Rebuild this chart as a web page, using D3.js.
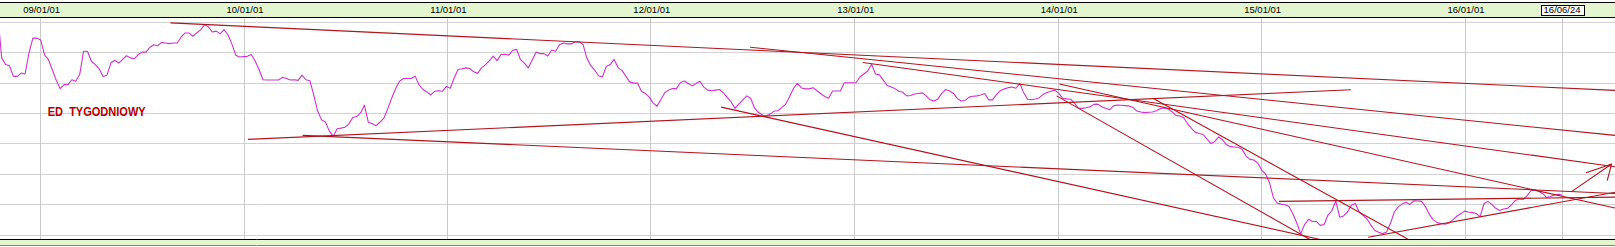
<!DOCTYPE html>
<html>
<head>
<meta charset="utf-8">
<script src="https://cdn.jsdelivr.net/npm/d3@7/dist/d3.min.js"></script>
<style>
    html, body { margin: 0; padding: 0; background: #ffffff; }
    #chart svg { display: block; }
</style>
</head>
<body>
<div id="chart"></div>
<script>
// weekly closes, first week = firstWeek, one value per week
const firstWeek = '2008-10-17';
const weeklyClose = [
    1.525, 1.381, 1.359, 1.355, 1.320, 1.320, 1.331, 1.328, 1.397, 1.446,
    1.446, 1.440, 1.390, 1.375, 1.341, 1.307, 1.280, 1.293, 1.293, 1.309,
    1.304, 1.326, 1.403, 1.403, 1.370, 1.359, 1.345, 1.320, 1.324, 1.364,
    1.373, 1.364, 1.376, 1.388, 1.381, 1.378, 1.392, 1.400, 1.400, 1.416,
    1.424, 1.421, 1.432, 1.430, 1.428, 1.430, 1.430, 1.449, 1.463, 1.463,
    1.452, 1.463, 1.473, 1.490, 1.483, 1.466, 1.469, 1.460, 1.474, 1.457,
    1.427, 1.390, 1.384, 1.385, 1.386, 1.392, 1.370, 1.342, 1.309, 1.308,
    1.308, 1.308, 1.308, 1.317, 1.313, 1.308, 1.309, 1.307, 1.324, 1.309,
    1.306, 1.259, 1.206, 1.177, 1.170, 1.140, 1.123, 1.148, 1.150, 1.153,
    1.164, 1.185, 1.188, 1.200, 1.225, 1.169, 1.164, 1.158, 1.170, 1.183,
    1.215, 1.249, 1.280, 1.304, 1.313, 1.313, 1.313, 1.321, 1.292, 1.277,
    1.269, 1.259, 1.271, 1.273, 1.271, 1.287, 1.281, 1.315, 1.343, 1.345,
    1.348, 1.346, 1.335, 1.330, 1.348, 1.358, 1.371, 1.387, 1.372, 1.392,
    1.393, 1.390, 1.406, 1.409, 1.375, 1.364, 1.348, 1.374, 1.400, 1.395,
    1.395, 1.387, 1.407, 1.403, 1.424, 1.430, 1.427, 1.427, 1.433, 1.434,
    1.426, 1.381, 1.356, 1.341, 1.322, 1.318, 1.353, 1.359, 1.376, 1.349,
    1.340, 1.321, 1.302, 1.298, 1.298, 1.271, 1.264, 1.252, 1.233, 1.222,
    1.244, 1.267, 1.275, 1.280, 1.280, 1.300, 1.305, 1.297, 1.289, 1.297,
    1.304, 1.285, 1.275, 1.273, 1.275, 1.277, 1.266, 1.251, 1.236, 1.215,
    1.230, 1.243, 1.256, 1.248, 1.216, 1.202, 1.193, 1.190, 1.196, 1.206,
    1.207, 1.218, 1.229, 1.254, 1.281, 1.297, 1.282, 1.279, 1.279, 1.283,
    1.273, 1.263, 1.254, 1.248, 1.272, 1.272, 1.272, 1.299, 1.299, 1.299,
    1.299, 1.318, 1.328, 1.338, 1.360, 1.328, 1.325, 1.308, 1.290, 1.285,
    1.280, 1.271, 1.268, 1.256, 1.257, 1.262, 1.264, 1.266, 1.256, 1.243,
    1.239, 1.246, 1.264, 1.277, 1.272, 1.264, 1.247, 1.239, 1.241, 1.252,
    1.255, 1.256, 1.259, 1.264, 1.243, 1.243, 1.260, 1.273, 1.279, 1.283,
    1.285, 1.281, 1.297, 1.266, 1.245, 1.243, 1.246, 1.250, 1.261, 1.267,
    1.271, 1.275, 1.264, 1.248, 1.246, 1.245, 1.232, 1.216, 1.215, 1.217,
    1.220, 1.228, 1.229, 1.220, 1.215, 1.210, 1.223, 1.226, 1.225, 1.224,
    1.223, 1.218, 1.206, 1.203, 1.201, 1.202, 1.203, 1.207, 1.214, 1.216,
    1.213, 1.204, 1.192, 1.190, 1.184, 1.165, 1.149, 1.136, 1.132, 1.129,
    1.114, 1.099, 1.106, 1.121, 1.111, 1.095, 1.089, 1.088, 1.087, 1.080,
    1.058, 1.047, 1.045, 1.035, 1.012, 0.999, 0.971, 0.921, 0.903, 0.900,
    0.898, 0.892, 0.868, 0.838, 0.802, 0.833, 0.850, 0.843, 0.843, 0.830,
    0.833, 0.864, 0.879, 0.910, 0.857, 0.861, 0.874, 0.897, 0.902, 0.874,
    0.863, 0.851, 0.831, 0.813, 0.807, 0.803, 0.808, 0.836, 0.874, 0.891,
    0.900, 0.906, 0.899, 0.911, 0.910, 0.909, 0.891, 0.866, 0.848, 0.839,
    0.836, 0.834, 0.838, 0.848, 0.860, 0.868, 0.877, 0.874, 0.872, 0.869,
    0.859, 0.902, 0.909, 0.899, 0.886, 0.879, 0.884, 0.886, 0.897, 0.912,
    0.917, 0.915, 0.927, 0.944, 0.947, 0.942, 0.935, 0.922, 0.925, 0.930,
    0.932, 0.930
];

const yearTicks = ['2009-01-01', '2010-01-01', '2011-01-01', '2012-01-01',
                   '2013-01-01', '2014-01-01', '2015-01-01', '2016-01-01'];
const lastQuote = '2016-06-24';
const gridLevels = [0.8, 0.9, 1.0, 1.1, 1.2, 1.3, 1.4, 1.5];
const viewRange = ['2008-10-21', '2016-09-27'];

// hand drawn trend lines: [from date, level, to date, level]
const trendLines = [
    ['2009-08-23', 1.496, '2016-09-27', 1.274],
    ['2010-01-09', 1.113, '2015-06-11', 1.276],
    ['2010-04-17', 1.126, '2016-09-27', 0.935],
    ['2012-05-07', 1.219, '2015-05-13', 0.773],
    ['2012-06-28', 1.416, '2016-09-27', 1.126],
    ['2013-01-16', 1.366, '2016-09-27', 1.023],
    ['2014-06-21', 1.248, '2015-10-01', 0.775],
    ['2013-12-30', 1.256, '2015-04-07', 0.775],
    ['2014-01-04', 1.295, '2016-09-27', 0.887],
    ['2015-02-02', 0.909, '2016-09-27', 0.923],
    ['2015-07-12', 0.791, '2016-09-27', 0.939]
];

// arrow: shaft and two barbs
const arrowStrokes = [
    ['2016-07-11', 0.941, '2016-09-21', 1.032],
    ['2016-08-06', 1.003, '2016-09-21', 1.032],
    ['2016-09-13', 0.977, '2016-09-21', 1.032]
];

const chartTitle = 'ED  TYGODNIOWY';

class WeeklyChart {
    constructor(container) {
        this.container = container;
        this.width = 1615;
        this.height = 247;
        this.plotTop = 18.5;
        this.plotBottom = 239;
        this.init();
    }

    init() {
        d3.select(this.container).html("");

        this.svg = d3.select(this.container)
            .append("svg")
            .attr("width", this.width)
            .attr("height", this.height)
            .style("font-family", "'Liberation Sans', Arial, sans-serif");
    }

    processData() {
        const parse = d3.utcParse("%Y-%m-%d");
        const start = parse(firstWeek);
        const series = weeklyClose.map((v, i) => ({
            date: d3.utcWeek.offset(start, i),
            value: v
        }));
        const toSegment = d => ({ x1: parse(d[0]), y1: d[1], x2: parse(d[2]), y2: d[3] });

        return {
            series,
            years: yearTicks.map(parse),
            last: parse(lastQuote),
            range: viewRange.map(parse),
            lines: trendLines.map(toSegment),
            arrow: arrowStrokes.map(toSegment)
        };
    }

    render() {
        const data = this.processData();
        const svg = this.svg;

        const xScale = d3.scaleUtc()
            .domain(data.range)
            .range([0, this.width]);

        const yScale = d3.scaleLinear()
            .domain([0.8, 1.5])
            .range([234.5, 21.7]);

        const crisp = v => Math.round(v) + 0.5;

        svg.selectAll("*").remove();

        svg.append("clipPath")
            .attr("id", "plot-clip")
            .append("rect")
            .attr("x", 0)
            .attr("y", this.plotTop)
            .attr("width", this.width)
            .attr("height", this.plotBottom - this.plotTop);

        // grid
        svg.append("g")
            .selectAll("line")
            .data(gridLevels)
            .join("line")
            .attr("x1", 0)
            .attr("x2", this.width)
            .attr("y1", d => crisp(yScale(d)))
            .attr("y2", d => crisp(yScale(d)))
            .attr("stroke", "#d2d2d2");

        svg.append("g")
            .selectAll("line")
            .data([...data.years, data.last])
            .join("line")
            .attr("x1", d => crisp(xScale(d)))
            .attr("x2", d => crisp(xScale(d)))
            .attr("y1", this.plotTop)
            .attr("y2", this.plotBottom)
            .attr("stroke", "#cacaca");

        // header band with dates
        svg.append("rect")
            .attr("x", 0)
            .attr("y", 2)
            .attr("width", this.width)
            .attr("height", 15.5)
            .attr("fill", "#e4f6cf");

        svg.append("g")
            .selectAll("line")
            .data([2.5, 17.5])
            .join("line")
            .attr("x1", 0)
            .attr("x2", this.width)
            .attr("y1", d => d)
            .attr("y2", d => d)
            .attr("stroke", "#000");

        const axis = svg.append("g")
            .attr("transform", "translate(1,6.6)")
            .call(d3.axisBottom(xScale)
                .tickValues(data.years)
                .tickFormat(d3.utcFormat("%y/%m/%d"))
                .tickSize(0)
                .tickPadding(0));
        axis.select(".domain").remove();
        axis.attr("font-family", "'Liberation Sans', Arial, sans-serif")
            .attr("font-size", 9.5);

        // last quote marker
        const lastG = svg.append("g");
        const lastText = lastG.append("text")
            .attr("x", xScale(data.last))
            .attr("y", 13.4)
            .attr("text-anchor", "middle")
            .attr("font-size", 9.5)
            .text(d3.utcFormat("%y/%m/%d")(data.last));
        const bb = lastText.node().getBBox();
        lastG.insert("rect", "text")
            .attr("x", Math.round(bb.x - 3) + 0.5)
            .attr("y", 5.5)
            .attr("width", Math.round(bb.width + 6))
            .attr("height", 10)
            .attr("fill", "#fff")
            .attr("stroke", "#000");

        // bottom band
        svg.append("rect")
            .attr("x", 0)
            .attr("y", 239.5)
            .attr("width", this.width)
            .attr("height", 5.5)
            .attr("fill", "#e4f6cf");
        svg.append("line")
            .attr("x1", 0).attr("x2", this.width)
            .attr("y1", 239.5).attr("y2", 239.5)
            .attr("stroke", "#000");
        svg.append("line")
            .attr("x1", 0).attr("x2", this.width)
            .attr("y1", 245.5).attr("y2", 245.5)
            .attr("stroke", "#6f9a5e");

        const plot = svg.append("g")
            .attr("clip-path", "url(#plot-clip)");

        // price line
        const line = d3.line()
            .x(d => xScale(d.date))
            .y(d => yScale(d.value));

        plot.append("path")
            .datum(data.series)
            .attr("fill", "none")
            .attr("stroke", "#cc33cc")
            .attr("stroke-width", 1.1)
            .attr("stroke-linejoin", "round")
            .attr("d", line);

        // trend lines + arrow
        plot.append("g")
            .selectAll("line")
            .data([...data.lines, ...data.arrow])
            .join("line")
            .attr("x1", d => xScale(d.x1))
            .attr("y1", d => yScale(d.y1))
            .attr("x2", d => xScale(d.x2))
            .attr("y2", d => yScale(d.y2))
            .attr("stroke", "#b0141c")
            .attr("stroke-width", 1.1);

        svg.append("text")
            .attr("x", 47.7)
            .attr("y", 116)
            .attr("fill", "#b00000")
            .attr("font-size", 12)
            .attr("font-weight", "bold")
            .attr("textLength", 98)
            .attr("lengthAdjust", "spacingAndGlyphs")
            .style("white-space", "pre")
            .text(chartTitle);
    }
}

const chart = new WeeklyChart("#chart");
chart.render();
</script>
</body>
</html>
